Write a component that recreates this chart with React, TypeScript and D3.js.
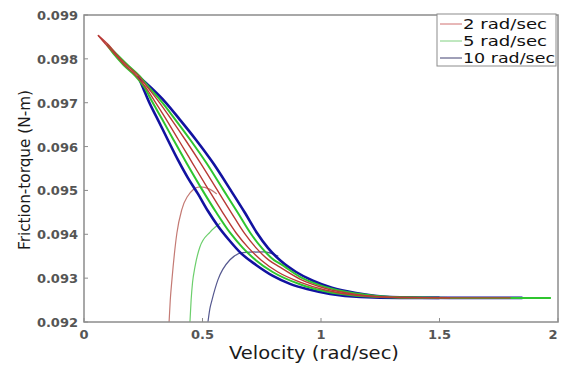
import React from "react";
import * as d3 from "d3";

type P = [number, number];

// Velocity (rad/sec), friction torque (N-m)
const blueUpper: P[] = [
  [0.228, 0.09761], [0.283, 0.09734], [0.342, 0.09702], [0.405, 0.09661], [0.473, 0.09615],
  [0.544, 0.09563], [0.616, 0.09503], [0.679, 0.09449], [0.73, 0.09403], [0.776, 0.09369],
  [0.831, 0.09339], [0.895, 0.09314], [0.966, 0.09294], [1.046, 0.09278], [1.148, 0.09266],
  [1.291, 0.09257], [1.544, 0.09255], [1.85, 0.09255],
];
const blueLower: P[] = [
  [0.228, 0.09761], [0.249, 0.09734], [0.274, 0.09702], [0.312, 0.09661], [0.354, 0.09615],
  [0.397, 0.09569], [0.439, 0.09528], [0.481, 0.09492], [0.523, 0.09453], [0.565, 0.09419],
  [0.612, 0.09387], [0.662, 0.09357], [0.726, 0.0933], [0.797, 0.09305], [0.869, 0.09287],
  [0.941, 0.09275], [1.038, 0.09264], [1.165, 0.09257], [1.333, 0.09255], [1.5, 0.09255],
];
const greenUpper: P[] = [
  [0.097, 0.09832], [0.141, 0.09809], [0.184, 0.09786], [0.234, 0.09761], [0.276, 0.09734],
  [0.328, 0.09702], [0.386, 0.09661], [0.449, 0.09615], [0.516, 0.09563], [0.586, 0.09503],
  [0.649, 0.09449], [0.702, 0.09403], [0.75, 0.09369], [0.802, 0.09341], [0.827, 0.09333],
  [0.911, 0.09303], [1.017, 0.0928], [1.148, 0.09265], [1.333, 0.09256], [1.544, 0.09255],
  [1.97, 0.09255],
];
const greenLower: P[] = [
  [0.097, 0.09832], [0.129, 0.09809], [0.167, 0.09786], [0.217, 0.09761], [0.256, 0.09734],
  [0.288, 0.09702], [0.331, 0.09661], [0.378, 0.09615], [0.432, 0.09563], [0.497, 0.09503],
  [0.559, 0.09449], [0.617, 0.09403], [0.67, 0.09369], [0.725, 0.09341], [0.796, 0.09314],
  [0.911, 0.09286], [1.017, 0.0927], [1.148, 0.0926], [1.333, 0.09256], [1.544, 0.09255],
];
const redUpper: P[] = [
  [0.059, 0.09854], [0.103, 0.09832], [0.139, 0.09809], [0.18, 0.09786], [0.231, 0.09761],
  [0.27, 0.09734], [0.316, 0.09702], [0.37, 0.09661], [0.428, 0.09615], [0.491, 0.09563],
  [0.56, 0.09503], [0.622, 0.09449], [0.676, 0.09403], [0.726, 0.09369], [0.78, 0.09341],
  [0.827, 0.09325], [0.911, 0.09298], [1.017, 0.09277], [1.148, 0.09263], [1.333, 0.09256],
  [1.544, 0.09255], [1.8, 0.09255],
];
const redLower: P[] = [
  [0.059, 0.09854], [0.094, 0.09832], [0.133, 0.09809], [0.171, 0.09786], [0.221, 0.09761],
  [0.262, 0.09734], [0.3, 0.09702], [0.348, 0.09661], [0.399, 0.09615], [0.457, 0.09563],
  [0.524, 0.09503], [0.586, 0.09449], [0.642, 0.09403], [0.694, 0.09369], [0.748, 0.09341],
  [0.818, 0.09314], [0.911, 0.09291], [1.017, 0.09273], [1.148, 0.09261], [1.333, 0.09256],
  [1.544, 0.09255],
];
// start-up transients
const redStart: P[] = [
  [0.359, 0.092], [0.364, 0.0925], [0.371, 0.09296], [0.392, 0.09403], [0.412, 0.09455],
  [0.435, 0.09485], [0.489, 0.09508], [0.53, 0.09503], [0.56, 0.09492],
];
const greenStart: P[] = [
  [0.447, 0.092], [0.452, 0.0925], [0.458, 0.0929], [0.468, 0.09325], [0.489, 0.09371],
  [0.532, 0.09405], [0.575, 0.09425],
];
const blueStart: P[] = [
  [0.523, 0.092], [0.531, 0.0923], [0.54, 0.0925], [0.565, 0.09296], [0.616, 0.09342],
  [0.671, 0.09358], [0.76, 0.0936], [0.82, 0.0935],
];

const xTicks = [0, 0.5, 1, 1.5, 2];
const xTickLabels = ["0", "0.5", "1", "1.5", "2"];
const yTicks = [0.092, 0.093, 0.094, 0.095, 0.096, 0.097, 0.098, 0.099];
const yTickLabels = ["0.092", "0.093", "0.094", "0.095", "0.096", "0.097", "0.098", "0.099"];
const legendLabels = ["2 rad/sec", "5 rad/sec", "10 rad/sec"];

const RED = "#b83a36";
const GREEN = "#2fc52f";
const BLUE = "#1212a0";

export default function App() {
  const W = 564, H = 367;
  const x = d3.scaleLinear().domain([0, 2]).range([84, 558]);
  const y = d3.scaleLinear().domain([0.092, 0.099]).range([322, 15]);
  const line = d3.line<P>().x((d) => x(d[0])).y((d) => y(d[1])).curve(d3.curveMonotoneX);

  const fontTick = "'DejaVu Sans', sans-serif";
  const fontLab = "'DejaVu Sans', sans-serif";

  const loops = [
    { upper: blueUpper, lower: blueLower, color: BLUE, w: 2.6 },
    { upper: greenUpper, lower: greenLower, color: GREEN, w: 2 },
    { upper: redUpper, lower: redLower, color: RED, w: 1.4 },
  ];
  const starts = [
    { d: redStart, color: "#c47a74" },
    { d: greenStart, color: "#6ccf6c" },
    { d: blueStart, color: "#55588f" },
  ];
  const legendColors = ["#d07070", "#80d080", "#404070"];
  const legendLens = [84, 84, 92];

  return (
    <svg width={W} height={H} style={{ position: "absolute", left: 0, top: 0, background: "#fff" }}>
      <rect x={0} y={0} width={W} height={H} fill="#fff" />
      {starts.map((s, i) => (
        <path key={"s" + i} d={line(s.d) || ""} fill="none" stroke={s.color} strokeWidth={1.2} />
      ))}
      {loops.map((l, i) => (
        <g key={"l" + i}>
          <path d={line(l.upper) || ""} fill="none" stroke={l.color} strokeWidth={l.w} />
          <path d={line(l.lower) || ""} fill="none" stroke={l.color} strokeWidth={l.w} />
        </g>
      ))}
      {/* frame */}
      <rect x={84} y={15} width={474} height={307} fill="none" stroke="#8c8c8c" strokeWidth={1.5} />
      {xTicks.map((t, i) => (
        <g key={"xt" + i}>
          <line x1={x(t)} x2={x(t)} y1={322} y2={318} stroke="#8c8c8c" strokeWidth={1} />
          <text x={Math.min(x(t), 553)} y={339} textAnchor="middle" fontFamily={fontTick} fontSize={13} fill="#555" fontWeight="bold">
            {xTickLabels[i]}
          </text>
        </g>
      ))}
      {yTicks.map((t, i) => (
        <g key={"yt" + i}>
          <line x1={84} x2={88} y1={y(t)} y2={y(t)} stroke="#8c8c8c" strokeWidth={1} />
          <text x={78} y={y(t) + 5} textAnchor="end" fontFamily={fontTick} fontSize={13} fill="#555" fontWeight="bold">
            {yTickLabels[i]}
          </text>
        </g>
      ))}
      <text x={314} y={359} fontFamily={fontLab} fontSize={17} fill="#1a1a1a" textAnchor="middle"
        textLength={170} lengthAdjust="spacingAndGlyphs">
        Velocity (rad/sec)
      </text>
      <text transform="translate(30,170) rotate(-90)" textAnchor="middle" fontFamily={fontLab} fontSize={15.5} fill="#1a1a1a"
        textLength={160} lengthAdjust="spacingAndGlyphs">
        Friction-torque (N-m)
      </text>
      {/* legend */}
      <rect x={437} y={14} width={119} height={52} fill="#fff" stroke="#8c8c8c" strokeWidth={1} />
      {legendLabels.map((lab, i) => (
        <g key={"lg" + i}>
          <line x1={440} x2={462} y1={24 + i * 17} y2={24 + i * 17} stroke={legendColors[i]} strokeWidth={1} />
          <text x={463} y={29 + i * 17} fontFamily={fontLab} fontSize={14} fill="#111"
            textLength={legendLens[i]} lengthAdjust="spacingAndGlyphs">
            {lab}
          </text>
        </g>
      ))}
    </svg>
  );
}
